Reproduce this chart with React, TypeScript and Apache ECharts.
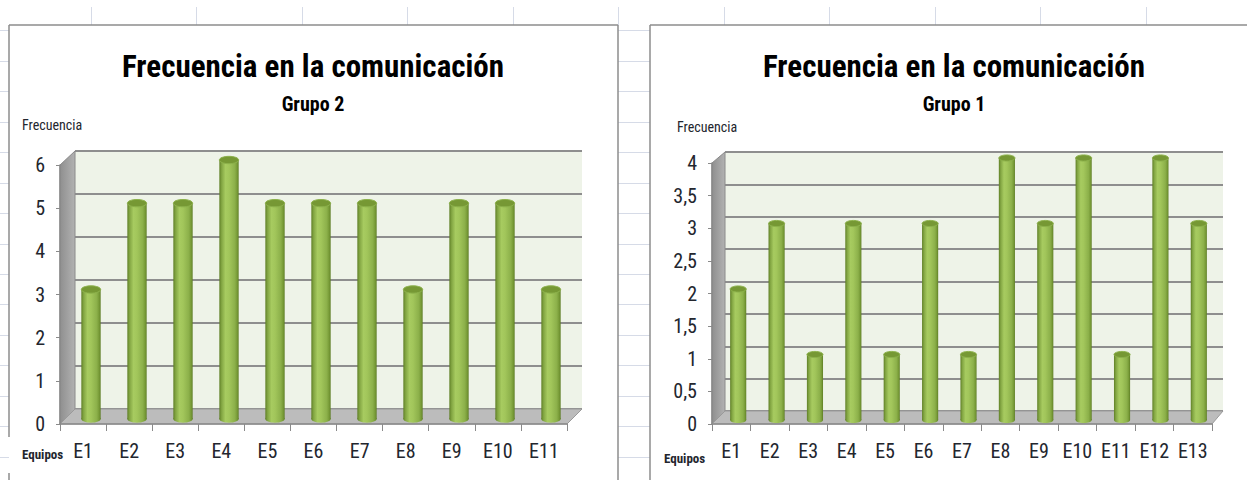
import React, { useEffect, useRef } from "react";
import * as echarts from "echarts";

// ---------- data ----------
const chartTitle = "Frecuencia en la comunicación";
const yAxisName = "Frecuencia";
const xAxisName = "Equipos";

const groupTwoName = "Grupo 2";
const groupTwoTeams = ["E1", "E2", "E3", "E4", "E5", "E6", "E7", "E8", "E9", "E10", "E11"];
const groupTwoValues = [3, 5, 5, 6, 5, 5, 5, 3, 5, 5, 3];
const groupTwoMax = 6;
const groupTwoStep = 1;

const groupOneName = "Grupo 1";
const groupOneTeams = ["E1", "E2", "E3", "E4", "E5", "E6", "E7", "E8", "E9", "E10", "E11", "E12", "E13"];
const groupOneValues = [2, 3, 1, 3, 1, 3, 1, 4, 3, 4, 1, 4, 3];
const groupOneMax = 4;
const groupOneStep = 0.5;

// ---------- layout ----------
const FONT =
  "'Roboto Condensed', 'Noto Sans Condensed', 'Liberation Sans Narrow', 'DejaVu Sans Condensed', sans-serif";
const TEXT = "#23262e";
const AXIS = "#8a8a8a";

type Box = { left: number; right: number; top: number; bottom: number };
type Panel = {
  titleX: number;
  front: Box;
  back: Box;
  cyl: Box;
  yNameX: number;
  yNameY: number;
  xNameX: number;
  xNameY: number;
  labelSize: number;
};

const panelLeft: Panel = {
  titleX: 313,
  front: { left: 60, right: 567, top: 165, bottom: 424 },
  back: { left: 75, right: 582, top: 151, bottom: 409 },
  cyl: { left: 68, right: 574, top: 160, bottom: 419 },
  yNameX: 22,
  yNameY: 125,
  xNameX: 22,
  xNameY: 454,
  labelSize: 20,
};

const panelRight: Panel = {
  titleX: 954,
  front: { left: 712, right: 1212, top: 163, bottom: 424 },
  back: { left: 725, right: 1223, top: 152, bottom: 411 },
  cyl: { left: 719, right: 1218, top: 158, bottom: 420 },
  yNameX: 677,
  yNameY: 127,
  xNameX: 664,
  xNameY: 458,
  labelSize: 20,
};

const gridOf = (b: Box, extra: any = {}) => ({
  left: b.left,
  top: b.top,
  width: b.right - b.left,
  height: b.bottom - b.top,
  containLabel: false,
  ...extra,
});

function cylinderRender(params: any, api: any) {
  const idx = api.value(0);
  const v = api.value(1);
  const top = api.coord([idx, v]);
  const base = api.coord([idx, 0]);
  const band = api.size([1, 0])[0];
  const w = band * 0.42;
  const rx = w / 2;
  const ry = w * 0.19;
  const bodyFill = new echarts.graphic.LinearGradient(0, 0, 1, 0, [
    { offset: 0, color: "#5f7f26" },
    { offset: 0.12, color: "#83a643" },
    { offset: 0.32, color: "#a7cb60" },
    { offset: 0.5, color: "#a2c65b" },
    { offset: 0.8, color: "#8cb04a" },
    { offset: 0.93, color: "#759835" },
    { offset: 1, color: "#5c7b24" },
  ]);
  return {
    type: "group",
    children: [
      { type: "ellipse", shape: { cx: top[0], cy: base[1], rx, ry }, style: { fill: bodyFill } },
      {
        type: "rect",
        shape: { x: top[0] - rx, y: top[1], width: w, height: base[1] - top[1] },
        style: { fill: bodyFill },
      },
      {
        type: "ellipse",
        shape: { cx: top[0], cy: top[1], rx, ry },
        style: { fill: "#769834", stroke: "#8db24c", lineWidth: 1 },
      },
    ],
  };
}

function buildPanel(
  i: number,
  p: Panel,
  cats: string[],
  vals: number[],
  max: number,
  step: number,
  sub: string,
  opt: any
) {
  const g = i * 3;
  const labelFmt = (v: number) => String(v).replace(".", ",");
  opt.grid.push(
    gridOf(p.front),
    gridOf(p.back, { show: true, backgroundColor: "#eef3e8", borderWidth: 0 }),
    gridOf(p.cyl)
  );
  opt.xAxis.push(
    {
      gridIndex: g,
      type: "category",
      data: cats,
      z: 5,
      axisLine: { show: true, lineStyle: { color: AXIS, width: 1.5 } },
      axisTick: { show: true, length: 7, lineStyle: { color: AXIS, width: 1 } },
      axisLabel: { interval: 0, fontSize: p.labelSize, fontFamily: FONT, color: TEXT, margin: 17 },
      splitLine: { show: false },
    },
    { gridIndex: g + 1, type: "category", data: cats, show: false },
    { gridIndex: g + 2, type: "category", data: cats, show: false }
  );
  opt.yAxis.push(
    {
      gridIndex: g,
      type: "value",
      min: 0,
      max,
      interval: step,
      z: 5,
      axisLine: { show: true, lineStyle: { color: AXIS, width: 1.5 } },
      axisTick: { show: true, length: 4, lineStyle: { color: AXIS, width: 1 } },
      axisLabel: { fontSize: 20, fontFamily: FONT, color: TEXT, margin: 15, formatter: labelFmt },
      splitLine: { show: false },
    },
    {
      gridIndex: g + 1,
      type: "value",
      min: 0,
      max,
      interval: step,
      axisLine: { show: false },
      axisTick: { show: false },
      axisLabel: { show: false },
      splitLine: { show: true, lineStyle: { color: "#8e8e8e", width: 2 } },
    },
    { gridIndex: g + 2, type: "value", min: 0, max, show: false }
  );
  opt.series.push({
    type: "custom",
    name: sub,
    xAxisIndex: g + 2,
    yAxisIndex: g + 2,
    z: 3,
    renderItem: cylinderRender,
    data: vals.map((v, k) => [k, v]),
  });
  const f = p.front;
  const b = p.back;
  opt.graphic.push(
    {
      type: "text",
      z: 6,
      x: p.titleX,
      y: 66,
      style: {
        text: chartTitle,
        fontSize: 31,
        fontWeight: "bold",
        fontFamily: FONT,
        fill: "#000",
        align: "center",
        verticalAlign: "middle",
      },
    },
    {
      type: "text",
      z: 6,
      x: p.titleX,
      y: 104,
      style: {
        text: sub,
        fontSize: 20,
        fontWeight: "bold",
        fontFamily: FONT,
        fill: "#000",
        align: "center",
        verticalAlign: "middle",
      },
    },
    {
      type: "polygon",
      z: 1,
      shape: { points: [[f.left, f.top], [b.left, b.top], [b.left, b.bottom], [f.left, f.bottom]] },
      style: {
        fill: new echarts.graphic.LinearGradient(0, 0, 1, 0, [
          { offset: 0, color: "#8f8f8f" },
          { offset: 1, color: "#b2b2b2" },
        ]),
        stroke: "#8a8a8a",
        lineWidth: 1,
      },
    },
    {
      type: "polygon",
      z: 1,
      shape: { points: [[f.left, f.bottom], [f.right, f.bottom], [b.right, b.bottom], [b.left, b.bottom]] },
      style: { fill: "#bcbcbc", stroke: "#9a9a9a", lineWidth: 1 },
    },
    {
      type: "text",
      z: 5,
      x: p.yNameX,
      y: p.yNameY,
      style: { text: yAxisName, fontSize: 14, fontFamily: FONT, fill: TEXT, align: "left", verticalAlign: "middle" },
    },
    {
      type: "text",
      z: 5,
      x: p.xNameX,
      y: p.xNameY,
      style: {
        text: xAxisName,
        fontSize: 13,
        fontWeight: "bold",
        fontFamily: FONT,
        fill: TEXT,
        align: "left",
        verticalAlign: "middle",
      },
    }
  );
}

function sheetGraphics() {
  const els: any[] = [];
  const gridColor = "#d6dbe7";
  const rowTop = 30.4;
  const rowH = 30.45;
  for (let k = 0; k < 15; k++) {
    const y = Math.round(rowTop + k * rowH) + 0.5;
    els.push({ type: "line", z: 0, shape: { x1: 0, y1: y, x2: 9, y2: y }, style: { stroke: gridColor, lineWidth: 1 } });
    els.push({ type: "line", z: 0, shape: { x1: 618, y1: y, x2: 650, y2: y }, style: { stroke: gridColor, lineWidth: 1 } });
  }
  const colLeft = 91;
  const colW = 105.45;
  for (let k = 0; k < 11; k++) {
    const x = Math.round(colLeft + k * colW) + 0.5;
    els.push({ type: "line", z: 0, shape: { x1: x, y1: 7, x2: x, y2: 25 }, style: { stroke: gridColor, lineWidth: 1 } });
  }
  const frame = "#8c8c8c";
  const fl = (x1: number, y1: number, x2: number, y2: number) =>
    els.push({ type: "line", z: 0, shape: { x1, y1, x2, y2 }, style: { stroke: frame, lineWidth: 1.5 } });
  fl(9, 25, 618, 25);
  fl(9, 25, 9, 437);
  fl(9, 473, 9, 480);
  fl(618, 25, 618, 480);
  fl(650, 25, 1247, 25);
  fl(650, 25, 650, 480);
  return els;
}

export default function App() {
  const ref = useRef<HTMLDivElement>(null);
  useEffect(() => {
    if (!ref.current) return;
    const chart = echarts.init(ref.current, undefined, { renderer: "svg" });
    const opt: any = {
      animation: false,
      backgroundColor: "#ffffff",
      grid: [],
      xAxis: [],
      yAxis: [],
      series: [],
      graphic: sheetGraphics(),
    };
    buildPanel(0, panelLeft, groupTwoTeams, groupTwoValues, groupTwoMax, groupTwoStep, groupTwoName, opt);
    buildPanel(1, panelRight, groupOneTeams, groupOneValues, groupOneMax, groupOneStep, groupOneName, opt);
    chart.setOption(opt);
    return () => chart.dispose();
  }, []);
  return (
    <div
      ref={ref}
      style={{ position: "absolute", left: 0, top: 0, width: 1247, height: 480 }}
    />
  );
}
